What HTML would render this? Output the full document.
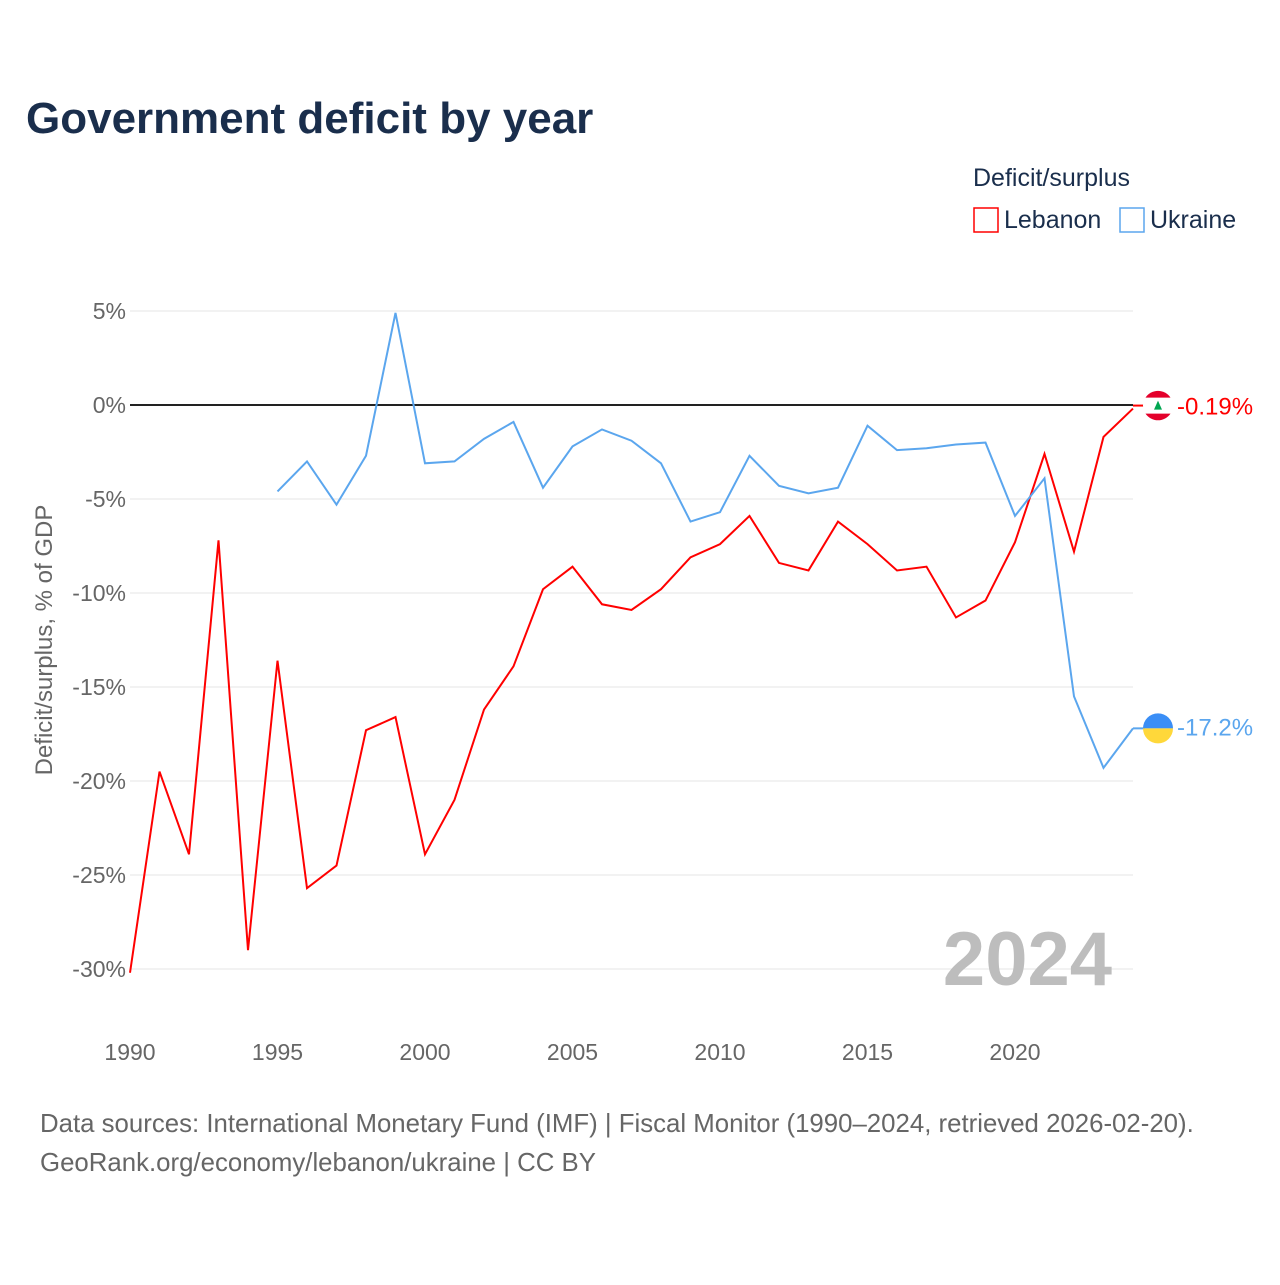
<!DOCTYPE html>
<html><head><meta charset="utf-8"><style>
body{margin:0;background:#fff;font-family:"Liberation Sans",sans-serif}
svg text{font-family:"Liberation Sans",sans-serif}
</style></head><body>
<svg id="chart" width="1280" height="1280" viewBox="0 0 1280 1280" xmlns="http://www.w3.org/2000/svg">
<rect width="1280" height="1280" fill="#fff"/>
<text x="26" y="133" font-size="44" font-weight="bold" fill="#1a2e4c">Government deficit by year</text>
<text x="973" y="186" font-size="25" fill="#1a2e4c">Deficit/surplus</text>
<g><rect x="974" y="208" width="24" height="24" fill="none" stroke="#ff0000" stroke-width="1.5"/><text x="1004" y="228" font-size="25" fill="#1a2e4c">Lebanon</text></g>
<g><rect x="1120" y="208" width="24" height="24" fill="none" stroke="#5ba6ee" stroke-width="1.5"/><text x="1150" y="228" font-size="25" fill="#1a2e4c">Ukraine</text></g>
<g id="grid"></g>
<g id="yticks"></g>
<g id="xticks"></g>
<text transform="translate(52,640) rotate(-90)" text-anchor="middle" font-size="24" fill="#666">Deficit/surplus, % of GDP</text>
<text x="1112" y="985" text-anchor="end" font-size="76" font-weight="bold" fill="#bdbdbd">2024</text>
<g id="series"></g>
<text x="40" y="1132" font-size="25.8" fill="#666">Data sources: International Monetary Fund (IMF) | Fiscal Monitor (1990–2024, retrieved 2026-02-20).</text>
<text x="40" y="1171" font-size="25.8" fill="#666">GeoRank.org/economy/lebanon/ukraine | CC BY</text>
</svg>
<script>
const years=[1990,1991,1992,1993,1994,1995,1996,1997,1998,1999,2000,2001,2002,2003,2004,2005,2006,2007,2008,2009,2010,2011,2012,2013,2014,2015,2016,2017,2018,2019,2020,2021,2022,2023,2024];
const lebanon=[-30.2,-19.5,-23.9,-7.2,-29.0,-13.6,-25.7,-24.5,-17.3,-16.6,-23.9,-21.0,-16.2,-13.9,-9.8,-8.6,-10.6,-10.9,-9.8,-8.1,-7.4,-5.9,-8.4,-8.8,-6.2,-7.4,-8.8,-8.6,-11.3,-10.4,-7.3,-2.6,-7.8,-1.7,-0.19];
const ukraineYears=[1995,1996,1997,1998,1999,2000,2001,2002,2003,2004,2005,2006,2007,2008,2009,2010,2011,2012,2013,2014,2015,2016,2017,2018,2019,2020,2021,2022,2023,2024];
const ukraine=[-4.6,-3.0,-5.3,-2.7,4.9,-3.1,-3.0,-1.8,-0.9,-4.4,-2.2,-1.3,-1.9,-3.1,-6.2,-5.7,-2.7,-4.3,-4.7,-4.4,-1.1,-2.4,-2.3,-2.1,-2.0,-5.9,-3.9,-15.5,-19.3,-17.2];
const yTicks=[5,0,-5,-10,-15,-20,-25,-30];
const xTicks=[1990,1995,2000,2005,2010,2015,2020];
const NS="http://www.w3.org/2000/svg";
const x=v=>130+(v-1990)*29.5;
const y=v=>405-v*18.8;
function mk(t,a,p){const e=document.createElementNS(NS,t);for(const k in a)e.setAttribute(k,a[k]);p.appendChild(e);return e;}
const grid=document.getElementById('grid'),yt=document.getElementById('yticks'),xt=document.getElementById('xticks'),ser=document.getElementById('series');
yTicks.forEach(v=>{
 const l=mk('line',{x1:130,x2:1133,y1:y(v),y2:y(v),stroke:v===0?'#222':'#e6e6e6','stroke-width':v===0?2:1},grid);
 
 
 const t=mk('text',{x:126,y:y(v)+8,'text-anchor':'end','font-size':23,fill:'#666'},yt);
 t.textContent=v+'%';
 
 
});
xTicks.forEach(v=>{
 const t=mk('text',{x:x(v),y:1060,'text-anchor':'middle','font-size':23,fill:'#666'},xt);
 t.textContent=v;
 
 
});
function line(xs,vs,c,name){
 const p=mk('polyline',{points:xs.map((yr,i)=>x(yr)+','+y(vs[i])).join(' '),fill:'none',stroke:c,'stroke-width':2},ser);
 
 
}
line(years,lebanon,'#ff0000','lebanon-line');
line(ukraineYears,ukraine,'#5ba6ee','ukraine-line');
const lv=lebanon[lebanon.length-1],uv=ukraine[ukraine.length-1];
const lm=mk('g',{},ser);


const ly=y(lv)-3;
mk('line',{x1:1133,x2:1145,y1:ly,y2:ly,stroke:'#ff0000','stroke-width':2},lm);
mk('circle',{cx:1158,cy:ly,r:15,fill:'#fff'},lm);
mk('path',{d:`M1145.5 ${ly-8} A15 15 0 0 1 1170.5 ${ly-8} Z`,fill:'#e4002b'},lm);
mk('path',{d:`M1145.5 ${ly+8} A15 15 0 0 0 1170.5 ${ly+8} Z`,fill:'#e4002b'},lm);
mk('polygon',{points:`1158,${ly-5} 1154,${ly+4} 1162,${ly+4}`,fill:'#00a651'},lm);
const lt=mk('text',{x:1177,y:ly+9,'font-size':24,fill:'#ff0000'},lm);lt.textContent=lv+'%';
const um=mk('g',{},ser);


mk('line',{x1:1133,x2:1145,y1:y(uv),y2:y(uv),stroke:'#5ba6ee','stroke-width':2},um);
mk('path',{d:`M1143 ${y(uv)} A15 15 0 0 1 1173 ${y(uv)} Z`,fill:'#3a8ef6'},um);
mk('path',{d:`M1143 ${y(uv)} A15 15 0 0 0 1173 ${y(uv)} Z`,fill:'#ffd83a'},um);
const ut=mk('text',{x:1177,y:y(uv)+7,'font-size':24,fill:'#5ba6ee'},um);ut.textContent=uv+'%';
</script>
</body></html>
